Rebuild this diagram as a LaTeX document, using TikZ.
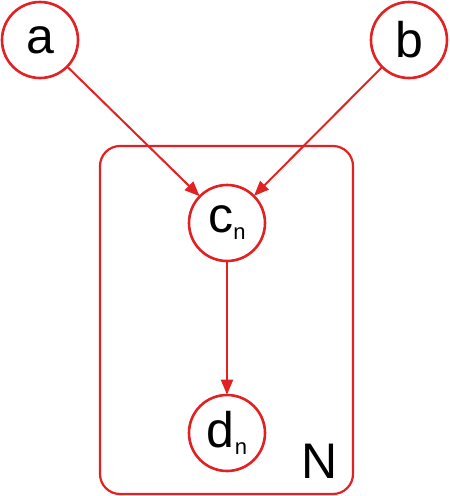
\documentclass[tikz,border=0pt]{standalone}
\usepackage{fontspec}
\setmainfont{Liberation Sans}
\usetikzlibrary{arrows.meta}
\definecolor{pred}{RGB}{226,34,34}
\newcommand{\subn}{\raisebox{-7pt}{\fontsize{22}{22}\selectfont n}}
\begin{document}
\begin{tikzpicture}[x=1pt,y=-1pt,
  var/.style={circle,draw=pred,line width=2.6pt,minimum size=76pt,inner sep=0pt,fill=white,
    font=\fontsize{50}{50}\selectfont},
  edge/.style={draw=pred,line width=2pt,-{Triangle[length=15pt,width=12pt]},shorten >=-1pt},
  plate/.style={draw=pred,line width=2.2pt,rounded corners=20pt}]
\useasboundingbox (0,0) rectangle (450,496);
\draw[plate] (100,146) rectangle (353,494);
\node[var] (a) at (40,40) {a};
\node[var] (b) at (409,40) {b};
\node[var] (c) at (227,223) {c\subn};
\node[var] (d) at (227,433) {d\subn};
\node[font=\fontsize{50}{50}\selectfont] (N) at (320,461) {N};
\draw[edge] (a) -- (c);
\draw[edge] (b) -- (c);
\draw[edge] (c) -- (d);
\end{tikzpicture}
\end{document}
